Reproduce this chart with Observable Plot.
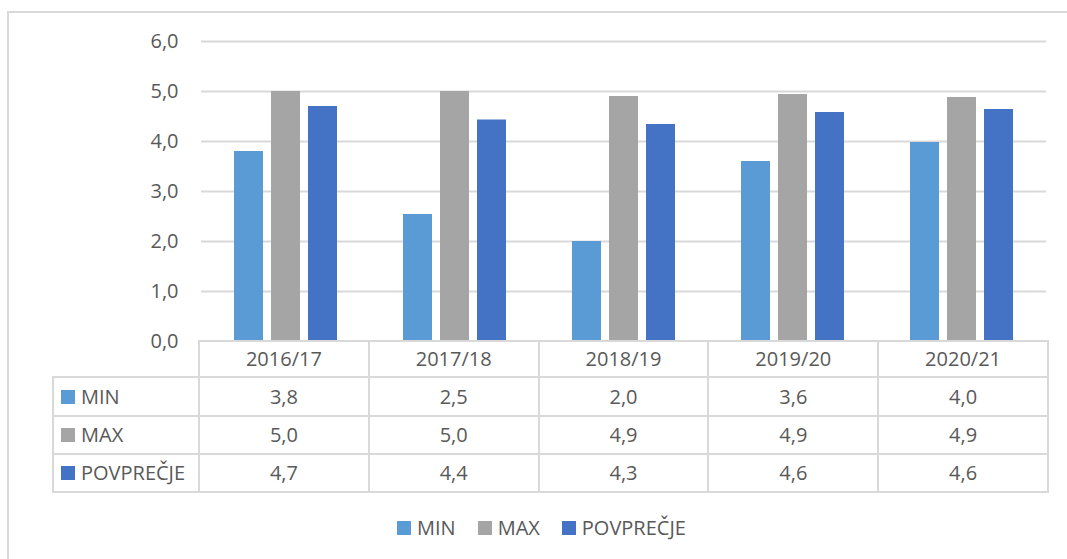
<!DOCTYPE html>
<html>
<head>
<meta charset="utf-8">
<script src="https://cdn.jsdelivr.net/npm/d3@7"></script>
<script src="https://cdn.jsdelivr.net/npm/@observablehq/plot@0.6"></script>
<style>
  html, body { margin: 0; padding: 0; background: #fff; }
  body { width: 1067px; height: 559px; position: relative; overflow: hidden;
         font-family: "Open Sans", sans-serif; color: #595959; }
  #frame { position: absolute; left: 7px; top: 11px; width: 1200px; height: 700px;
           border-left: 2px solid #d9d9d9; border-top: 2px solid #d9d9d9; }
  #chart svg { position: absolute; left: 0; top: 0; }
  .ln { position: absolute; background: #d9d9d9; }
  .cell { position: absolute; font-size: 20px; line-height: 20px; color: #595959; white-space: nowrap; }
  .sw { display: inline-block; width: 14px; height: 14px; }
  #legend { position: absolute; left: 397px; top: 517px; display: flex; gap: 22px; font-size: 20px; line-height: 22px; }
  #legend .item { display: flex; align-items: center; gap: 6px; }
</style>
</head>
<body>
<div id="frame"></div>
<div id="chart"></div>
<div id="table"></div>
<div id="legend"></div>
<script>
const years = ["2016/17", "2017/18", "2018/19", "2019/20", "2020/21"];
const series = ["MIN", "MAX", "POVPREČJE"];
const minVals = [3.8, 2.54, 2.0, 3.6, 3.98];
const maxVals = [5.0, 5.0, 4.9, 4.94, 4.88];
const avgVals = [4.7, 4.43, 4.34, 4.58, 4.64];
const colors = ["#5B9BD5", "#A5A5A5", "#4472C4"];
const yTicks = [0, 1, 2, 3, 4, 5, 6];

(function () {
const valuesBySeries = [minVals, maxVals, avgVals];
const data = [];
series.forEach((s, i) => years.forEach((y, j) => data.push({year: y, series: s, value: valuesBySeries[i][j]})));
const fmt = d => d.toFixed(1).replace(".", ",");

const W = 1067, plotLeft = 199, plotRight = 1048, plotTop = 41, base = 341;

const plot = Plot.plot({
  width: W,
  height: base + 1,
  marginLeft: plotLeft,
  marginRight: W - plotRight,
  marginTop: plotTop,
  marginBottom: 1,
  facet: {data, x: "year"},
  fx: {domain: years, padding: 0, axis: null, label: null},
  x: {domain: series, paddingInner: 0.213, paddingOuter: 0.873, axis: null, label: null},
  y: {domain: [0, 6], ticks: yTicks, tickFormat: fmt, tickSize: 0, tickPadding: 23, label: null},
  color: {domain: series, range: colors},
  style: {fontFamily: "'Open Sans', sans-serif", fontSize: "20px", color: "#595959", background: "transparent", overflow: "visible"},
  marks: [
    Plot.ruleY(yTicks.slice(1), {stroke: "#d9d9d9", strokeWidth: 2}),
    Plot.barY(data, {x: "series", y: "value", fill: "series", insetLeft: 0, insetRight: 0})
  ]
});
document.getElementById("chart").appendChild(plot);

const table = document.getElementById("table");
const colW = (plotRight - plotLeft) / years.length;
const rowsY = [base, 377, 416, 454, 492];
const tableLeft = 53;
function line(x, y, w, h) {
  const d = document.createElement("div");
  d.className = "ln";
  d.style.left = x + "px"; d.style.top = y + "px";
  d.style.width = w + "px"; d.style.height = h + "px";
  table.appendChild(d);
}
function cell(html, x, y, w, h, align) {
  const d = document.createElement("div");
  d.className = "cell";
  d.style.left = x + "px"; d.style.top = y + "px";
  d.style.width = w + "px"; d.style.height = h + "px";
  d.style.display = "flex"; d.style.alignItems = "center";
  d.style.justifyContent = align;
  d.innerHTML = html;
  table.appendChild(d);
}
line(plotLeft - 1, rowsY[0] - 1, plotRight - plotLeft + 2, 2);
for (let r = 1; r < rowsY.length; r++) line(tableLeft - 1, rowsY[r] - 1, plotRight - tableLeft + 2, 2);
line(tableLeft - 1, rowsY[1] - 1, 2, rowsY[4] - rowsY[1] + 2);
for (let c = 0; c <= years.length; c++) line(plotLeft + c * colW - 1, rowsY[0] - 1, 2, rowsY[4] - rowsY[0] + 2);
years.forEach((y, c) => cell(y, plotLeft + c * colW, rowsY[0], colW, rowsY[1] - rowsY[0], "center"));
series.forEach((s, i) => {
  const y0 = rowsY[i + 1], h = rowsY[i + 2] - y0;
  cell(`<span class="sw" style="background:${colors[i]};margin-right:6px"></span>${s}`, tableLeft + 8, y0, plotLeft - tableLeft - 8, h, "flex-start");
  valuesBySeries[i].forEach((v, c) => cell(fmt(v), plotLeft + c * colW, y0, colW, h, "center"));
});

const legend = document.getElementById("legend");
series.forEach((s, i) => {
  const it = document.createElement("div");
  it.className = "item";
  it.innerHTML = `<span class="sw" style="background:${colors[i]}"></span><span>${s}</span>`;
  legend.appendChild(it);
});
})();
</script>
</body>
</html>
